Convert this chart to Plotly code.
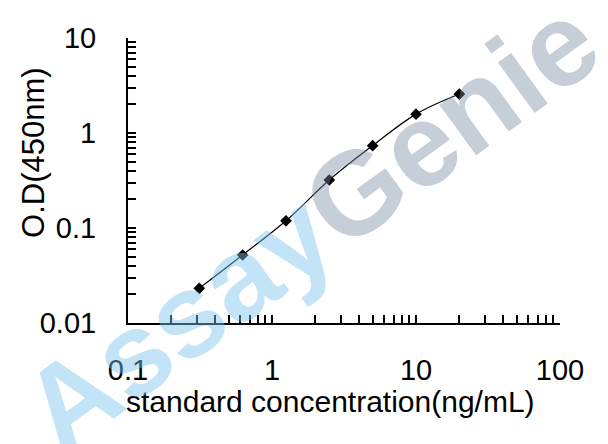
import plotly.graph_objects as go

# standard curve data
conc = [0.3125, 0.625, 1.25, 2.5, 5, 10, 20]
od = [0.0232, 0.052, 0.119, 0.32, 0.736, 1.58, 2.57]

x_ticks = [0.1, 1, 10, 100]
x_ticktext = ["0.1", "1", "10", "100"]
y_ticks = [0.01, 0.1, 1, 10]
y_ticktext = ["0.01", "0.1", "1", "10"]

FONT = "Liberation Sans, Arial, sans-serif"


def minor_vals(decades):
    # 2..9 within each decade
    return [d * k for d in decades[:-1] for k in range(2, 10)]


fig = go.Figure()

fig.add_trace(go.Scatter(
    x=conc, y=od,
    mode="lines+markers",
    line=dict(color="black", width=1.2, shape="spline"),
    marker=dict(symbol="diamond", size=9, color="black"),
    showlegend=False,
))

axis_common = dict(
    type="log",
    automargin=False,
    showgrid=False,
    zeroline=False,
    showline=True,
    linecolor="black",
    linewidth=2,
    ticks="inside",
    ticklen=8,
    tickwidth=1.5,
    tickcolor="black",
    tickfont=dict(family=FONT, size=29, color="black"),
)

# page body keeps its default 8px margin, so the figure is 8px smaller
fig.update_layout(
    width=600, height=436,
    margin=dict(l=120, r=48, t=30, b=121),
    paper_bgcolor="white",
    plot_bgcolor="white",
    font=dict(family=FONT, color="black"),
    xaxis=dict(axis_common, range=[-1, 2], tickvals=x_ticks, ticktext=x_ticktext,
               ticklabelstandoff=20,
               minor=dict(tickvals=minor_vals(x_ticks), ticks="inside", ticklen=8,
                          tickwidth=1.5, tickcolor="black", showgrid=False)),
    yaxis=dict(axis_common, range=[-2, 1], tickvals=y_ticks, ticktext=y_ticktext,
               ticklabelstandoff=24,
               minor=dict(tickvals=minor_vals(y_ticks), ticks="inside", ticklen=8,
                          tickwidth=1.5, tickcolor="black", showgrid=False)),
)

# axis titles
fig.add_annotation(text="standard concentration(ng/mL)", xref="paper", yref="paper",
                   x=0.468, y=-0.277, showarrow=False, xanchor="center", yanchor="middle",
                   font=dict(family=FONT, size=30, color="black"))
fig.add_annotation(text="O.D(450nm)", xref="paper", yref="paper",
                   x=-0.22, y=0.60, showarrow=False, textangle=-90,
                   xanchor="center", yanchor="middle",
                   font=dict(family=FONT, size=31, color="black"))

# watermark
fig.add_annotation(
    text="<b><span style='color:rgba(120,195,235,0.45)'>Assay</span>"
         "<span style='color:rgba(120,138,160,0.42)'>Genie</span></b>",
    xref="paper", yref="paper", x=0.422, y=0.345, showarrow=False,
    textangle=-36, xanchor="center", yanchor="middle",
    font=dict(family=FONT, size=118),
)

fig.write_html("out.html")
